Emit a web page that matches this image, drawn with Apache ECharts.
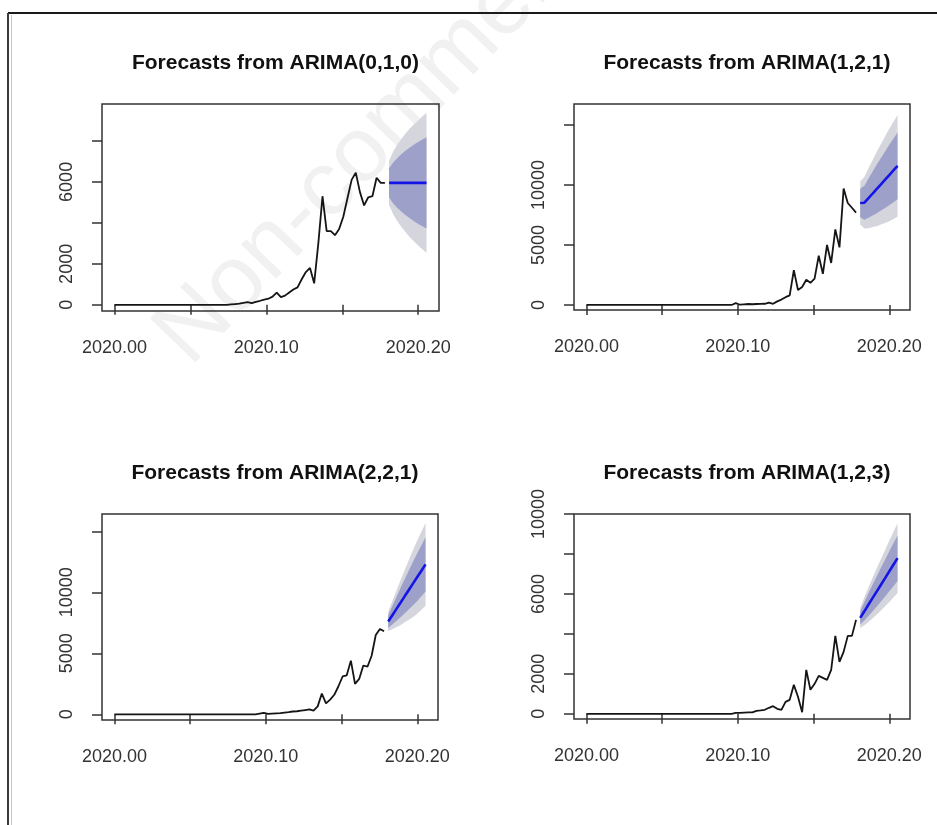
<!DOCTYPE html>
<html>
<head>
<meta charset="utf-8">
<script src="https://cdn.jsdelivr.net/npm/echarts@6/dist/echarts.min.js"></script>
<style>
  html, body { margin: 0; padding: 0; background: #ffffff; }
  #chart { width: 937px; height: 825px; }
</style>
</head>
<body>
<div id="chart"></div>
<script>
// Daily series starting at 2020, frequency 365; 66 observations and a 10-step forecast.
const startYear = 2020;
const freq = 365;
const nObs = 66;
const horizon = 10;

// Observed series for each model panel
const obsArima010 = [
  0,0,0,0,0,0,0,0,0,0,0,0,0,0,0,0,0,0,0,0,0,0,0,0,0,0,0,
  0,20,40,60,100,130,80,150,200,260,300,400,600,380,450,600,750,850,1250,1600,1800,1050,
  3000,5300,3600,3600,3400,3700,4300,5200,6100,6450,5500,4850,5250,5300,6200,5950,5950
];
const obsArima121 = [
  0,0,0,0,0,0,0,0,0,0,0,0,0,0,0,0,0,0,0,0,0,0,0,0,0,0,0,0,0,0,0,0,0,0,0,
  0,150,20,50,80,60,80,90,100,200,100,300,450,650,800,2900,1250,1500,2100,1850,2200,
  4100,2600,5000,3500,6300,4800,9700,8500,8100,7700
];
const obsArima221 = [
  0,0,0,0,0,0,0,0,0,0,0,0,0,0,0,0,0,0,0,0,0,0,0,0,0,0,0,0,0,0,0,0,0,0,
  0,60,120,30,60,80,100,140,180,230,250,300,350,400,300,650,1700,900,1200,1600,2300,
  3100,3200,4400,2500,2900,4000,3900,4800,6500,7000,6800
];
const obsArima123 = [
  0,0,0,0,0,0,0,0,0,0,0,0,0,0,0,0,0,0,0,0,0,0,0,0,0,0,0,0,0,0,0,0,0,0,0,
  0,50,50,60,70,70,150,170,200,300,380,250,200,600,700,1450,850,80,2200,1200,1500,
  1900,1800,1700,2200,3900,2600,3100,3900,3900,4700
];

// Point forecasts and 80% / 95% prediction intervals
const fc010Mean = [5950,5950,5950,5950,5950,5950,5950,5950,5950,5950];
const fc010Lo80 = [5240,4950,4730,4540,4370,4220,4080,3950,3830,3720];
const fc010Hi80 = [6660,6950,7170,7360,7530,7680,7820,7950,8070,8180];
const fc010Lo95 = [4870,4420,4080,3790,3540,3300,3090,2900,2710,2540];
const fc010Hi95 = [7030,7480,7820,8110,8370,8600,8810,9000,9190,9370];

const fc121Mean = [8500,8520,8900,9290,9670,10060,10440,10830,11210,11600];
const fc121Lo80 = [7320,7110,7260,7460,7640,7870,8080,8310,8560,8820];
const fc121Hi80 = [9680,9930,10540,11120,11700,12250,12800,13350,13860,14380];
const fc121Lo95 = [6700,6370,6400,6490,6570,6710,6840,6980,7160,7360];
const fc121Hi95 = [10300,10670,11400,12090,12770,13410,14040,14680,15260,15840];

const fc221Mean = [7600,8120,8640,9160,9690,10210,10730,11250,11770,12290];
const fc221Lo80 = [7080,7370,7660,7950,8280,8610,8930,9290,9680,10070];
const fc221Hi80 = [8120,8870,9620,10370,11100,11810,12530,13210,13860,14510];
const fc221Lo95 = [6800,6970,7140,7310,7540,7760,7980,8250,8570,8890];
const fc221Hi95 = [8400,9270,10140,11010,11840,12660,13480,14250,14970,15690];

const fc123Mean = [4800,5130,5470,5800,6130,6460,6790,7130,7460,7790];
const fc123Lo80 = [4470,4670,4900,5130,5370,5615,5870,6130,6390,6650];
const fc123Hi80 = [5130,5590,6040,6470,6890,7305,7710,8130,8530,8930];
const fc123Lo95 = [4300,4430,4600,4780,4970,5170,5380,5600,5820,6045];
const fc123Hi95 = [5300,5830,6340,6820,7290,7750,8200,8660,9100,9535];

// Titles and tick marks
const panelTitles = [
  'Forecasts from ARIMA(0,1,0)',
  'Forecasts from ARIMA(1,2,1)',
  'Forecasts from ARIMA(2,2,1)',
  'Forecasts from ARIMA(1,2,3)'
];
const xTicks = [2020.00, 2020.05, 2020.10, 2020.15, 2020.20];
const xTickLabels = [2020.00, 2020.10, 2020.20];
const yTicks010 = [0, 2000, 4000, 6000, 8000];
const yLabels010 = [0, 2000, 6000];
const yTicks121 = [0, 5000, 10000, 15000];
const yLabels121 = [0, 5000, 10000];
const yTicks221 = [0, 5000, 10000, 15000];
const yLabels221 = [0, 5000, 10000];
const yTicks123 = [0, 2000, 4000, 6000, 8000, 10000];
const yLabels123 = [0, 2000, 6000, 10000];

// Time index of observations and forecasts
const obsTime = Array.from({ length: nObs }, (_, i) => startYear + i / freq);
const fcTime = Array.from({ length: horizon }, (_, i) => startYear + (nObs + i) / freq);

const panels = [
  { obs: obsArima010, mean: fc010Mean, lo80: fc010Lo80, hi80: fc010Hi80, lo95: fc010Lo95, hi95: fc010Hi95,
    yTicks: yTicks010, yLabels: yLabels010, yMin: -300, yMax: 9800,
    grid: { left: 102, top: 104, width: 337, height: 207 } },
  { obs: obsArima121, mean: fc121Mean, lo80: fc121Lo80, hi80: fc121Hi80, lo95: fc121Lo95, hi95: fc121Hi95,
    yTicks: yTicks121, yLabels: yLabels121, yMin: -420, yMax: 16750,
    grid: { left: 574, top: 104, width: 336, height: 206 } },
  { obs: obsArima221, mean: fc221Mean, lo80: fc221Lo80, hi80: fc221Hi80, lo95: fc221Lo95, hi95: fc221Hi95,
    yTicks: yTicks221, yLabels: yLabels221, yMin: -467, yMax: 16418,
    grid: { left: 102, top: 514, width: 336, height: 206 } },
  { obs: obsArima123, mean: fc123Mean, lo80: fc123Lo80, hi80: fc123Hi80, lo95: fc123Lo95, hi95: fc123Hi95,
    yTicks: yTicks123, yLabels: yLabels123, yMin: -260, yMax: 10000,
    grid: { left: 574, top: 514, width: 336, height: 205 } }
];

const FONT = "'Liberation Sans', Arial, sans-serif";
const AXIS_COLOR = '#333333';
const BAND95 = '#d5d5de';
const BAND80 = '#9da1c9';
const FC_LINE = '#1414e6';

// Forecast interval drawn as one filled polygon through the axis scales
function bandSeries(idx, upper, lower, color) {
  return {
    type: 'custom',
    xAxisIndex: idx,
    yAxisIndex: idx,
    silent: true,
    z: 2,
    data: fcTime.map((t, i) => [t, lower[i], upper[i]]),
    encode: { x: 0, y: [1, 2] },
    renderItem: function (params, api) {
      if (params.dataIndex !== 0) return;
      const pts = [];
      for (let i = 0; i < fcTime.length; i++) pts.push(api.coord([fcTime[i], upper[i]]));
      for (let i = fcTime.length - 1; i >= 0; i--) pts.push(api.coord([fcTime[i], lower[i]]));
      return { type: 'polygon', shape: { points: pts }, style: { fill: color } };
    }
  };
}

const grids = [], xAxes = [], yAxes = [], series = [], titles = [];

panels.forEach((p, idx) => {
  grids.push(Object.assign({ show: true, borderColor: AXIS_COLOR, borderWidth: 1.5, backgroundColor: 'transparent', z: 3 }, p.grid));

  xAxes.push({
    type: 'value', gridIndex: idx,
    min: 2019.9918, max: 2020.2137,
    axisLine: { show: false },
    splitLine: { show: false },
    axisTick: { show: true, customValues: xTicks, length: 10, lineStyle: { color: AXIS_COLOR, width: 1.5 } },
    axisLabel: {
      show: true, customValues: xTickLabels, margin: 28,
      formatter: v => v.toFixed(2),
      color: AXIS_COLOR, fontSize: 18, fontFamily: FONT
    }
  });

  yAxes.push({
    type: 'value', gridIndex: idx,
    min: p.yMin, max: p.yMax,
    axisLine: { show: false },
    splitLine: { show: false },
    axisTick: { show: true, customValues: p.yTicks, length: 10, lineStyle: { color: AXIS_COLOR, width: 1.5 } },
    axisLabel: {
      show: true, customValues: p.yLabels, margin: 26, rotate: 90,
      formatter: v => String(Math.round(v)),
      color: AXIS_COLOR, fontSize: 18, fontFamily: FONT
    }
  });

  series.push(bandSeries(idx, p.hi95, p.lo95, BAND95));
  series.push(bandSeries(idx, p.hi80, p.lo80, BAND80));

  series.push({
    type: 'line', xAxisIndex: idx, yAxisIndex: idx,
    data: obsTime.map((t, i) => [t, p.obs[i]]),
    showSymbol: false, silent: true, z: 4,
    lineStyle: { color: '#151515', width: 1.8 }
  });
  series.push({
    type: 'line', xAxisIndex: idx, yAxisIndex: idx,
    data: fcTime.map((t, i) => [t, p.mean[i]]),
    showSymbol: false, silent: true, z: 5,
    lineStyle: { color: FC_LINE, width: 2.6 }
  });

  titles.push({
    text: panelTitles[idx],
    left: p.grid.left + p.grid.width / 2,
    top: p.grid.top - 56,
    textAlign: 'center',
    textStyle: { fontSize: 21, fontWeight: 'bold', color: '#111111', fontFamily: FONT }
  });
});

const chart = echarts.init(document.getElementById('chart'), null, { renderer: 'canvas' });
chart.setOption({
  animation: false,
  backgroundColor: '#ffffff',
  title: titles,
  grid: grids,
  xAxis: xAxes,
  yAxis: yAxes,
  series: series,
  graphic: [
    // faint watermark behind the plots
    {
      type: 'text', z: -10, silent: true,
      x: 205, y: 382, rotation: 46 * Math.PI / 180,
      style: { text: 'Non-commercial use only', fontSize: 92, fontFamily: FONT, fill: '#f1f1f1', textVerticalAlign: 'bottom' }
    },
    // page frame
    { type: 'line', z: 10, shape: { x1: 8, y1: 13, x2: 937, y2: 13 }, style: { stroke: '#1a1a1a', lineWidth: 2 } },
    { type: 'line', z: 10, shape: { x1: 8, y1: 13, x2: 8, y2: 825 }, style: { stroke: '#3a3a3a', lineWidth: 2 } },
    { type: 'line', z: 10, shape: { x1: 11.5, y1: 15, x2: 11.5, y2: 825 }, style: { stroke: '#c8c8c8', lineWidth: 1 } }
  ]
});
</script>
</body>
</html>
